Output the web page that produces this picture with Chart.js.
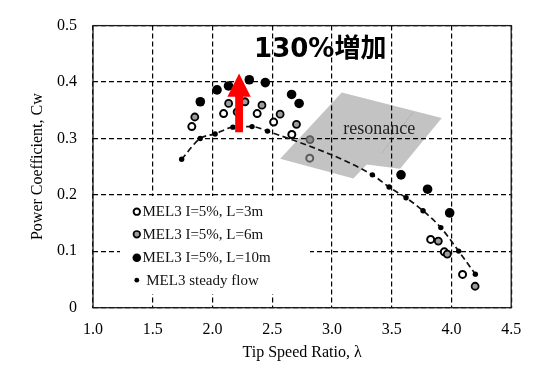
<!DOCTYPE html>
<html><head><meta charset="utf-8">
<script src="https://cdn.jsdelivr.net/npm/chart.js@4"></script>
<style>html,body{margin:0;padding:0;background:#fff}</style>
</head><body>
<canvas id="c" width="554" height="376"></canvas>
<script>
// ---------- data ----------
const xTickLabels = ['1.0','1.5','2.0','2.5','3.0','3.5','4.0','4.5'];
const yTickLabels = ['0','0.1','0.2','0.3','0.4','0.5'];
const xTitle = 'Tip Speed Ratio, \u03bb';
const yTitle = 'Power Coefficient, Cw';
const seriesNames = ['MEL3 I=5%, L=3m','MEL3 I=5%, L=6m','MEL3 I=5%, L=10m','MEL3 steady flow'];

const l3X = [1.827, 2.093, 2.207, 2.374, 2.512, 2.664, 2.814, 3.826, 3.940, 4.093];
const l3Y = [0.321, 0.344, 0.347, 0.344, 0.329, 0.307, 0.265, 0.121, 0.099, 0.059];
const l6X = [1.852, 2.135, 2.272, 2.414, 2.566, 2.703, 2.816, 3.890, 3.965, 4.198];
const l6Y = [0.338, 0.362, 0.365, 0.359, 0.343, 0.325, 0.298, 0.118, 0.095, 0.038];
const l10X = [1.898, 2.038, 2.134, 2.308, 2.442, 2.662, 2.725, 3.578, 3.800, 3.985];
const l10Y = [0.365, 0.386, 0.393, 0.404, 0.399, 0.378, 0.362, 0.2355, 0.210, 0.168];
const steadyX = [1.742, 1.897, 2.022, 2.171, 2.331, 2.460, 3.338, 3.478, 3.620, 3.762, 3.911, 4.060, 4.200];
const steadyY = [0.263, 0.300, 0.308, 0.320, 0.321, 0.313, 0.2355, 0.2138, 0.1948, 0.1718, 0.1420, 0.1003, 0.0595];

// annotations (data coordinates)
const resonanceX = [2.566, 3.082, 3.919, 3.570, 3.291, 3.179];
const resonanceY = [0.2638, 0.3816, 0.3363, 0.2464, 0.2539, 0.2290];
const resonanceSeamX = [3.681, 3.417];
const resonanceSeamY = [0.3468, 0.2743];
const resonanceLabel = 'resonance';
const resonanceLabelXY = [3.396, 0.307];
const gainLabel = '130%\u5897\u52a0';
const gainLabelXY = [2.348, 0.457];
const arrowX = 2.2226;
const arrowFromY = 0.3108;
const arrowToY = 0.4151;

// ---------- helpers ----------
const SERIF = '"Liberation Serif", "Times New Roman", serif';
function pts(xs, ys){ return xs.map((x,i)=>({x:x, y:ys[i]})); }
function inResonance(px, py){
  let inside = false;
  for (let i=0, j=resonanceX.length-1; i<resonanceX.length; j=i++){
    const xi=resonanceX[i], yi=resonanceY[i], xj=resonanceX[j], yj=resonanceY[j];
    if (((yi>py)!==(yj>py)) && (px < (xj-xi)*(py-yi)/(yj-yi)+xi)) inside=!inside;
  }
  return inside;
}
function isIn(ctx){ const r = ctx.raw; return !!(r && inResonance(r.x, r.y)); }

const GRAY_FILL = '#9c9c9c';
const REGION_FILL = '#c3c3c3';

const deco = {
  id:'deco',
  beforeDraw(chart){
    const {ctx, scales:{x,y}} = chart;
    ctx.save();
    ctx.beginPath();
    resonanceX.forEach((v,i)=>{
      const px = x.getPixelForValue(v), py = y.getPixelForValue(resonanceY[i]);
      if (i) ctx.lineTo(px,py); else ctx.moveTo(px,py);
    });
    ctx.closePath();
    ctx.fillStyle = REGION_FILL;
    ctx.fill();
    ctx.beginPath();
    ctx.moveTo(x.getPixelForValue(resonanceSeamX[0]), y.getPixelForValue(resonanceSeamY[0]));
    ctx.lineTo(x.getPixelForValue(resonanceSeamX[1]), y.getPixelForValue(resonanceSeamY[1]));
    ctx.strokeStyle = '#b2b2b2';
    ctx.lineWidth = 1;
    ctx.stroke();
    ctx.restore();
  },
  beforeDatasetsDraw(chart){
    const {ctx, scales:{x,y}} = chart;
    ctx.save();
    // resonance text
    ctx.font = '18px ' + SERIF;
    ctx.fillStyle = '#222';
    ctx.textAlign = 'center';
    ctx.textBaseline = 'alphabetic';
    ctx.fillText(resonanceLabel, x.getPixelForValue(resonanceLabelXY[0]), y.getPixelForValue(resonanceLabelXY[1]));
    // legend box
    const lx = 120, ly = 196, lw = 190, lh = 98;
    ctx.fillStyle = '#fff';
    ctx.fillRect(lx, ly, lw, lh);
    const rows = [211.7, 234.3, 257.7, 280.2];
    const mx = 136.8;
    ctx.font = '15px ' + SERIF;
    ctx.textAlign = 'left';
    ctx.textBaseline = 'middle';
    rows.forEach((ry, i)=>{
      ctx.beginPath();
      if (i === 0){ ctx.arc(mx, ry, 3.2, 0, Math.PI*2); ctx.fillStyle='#fff'; ctx.fill(); ctx.lineWidth=1.9; ctx.strokeStyle='#000'; ctx.stroke(); }
      else if (i === 1){ ctx.arc(mx, ry, 3.3, 0, Math.PI*2); ctx.fillStyle=GRAY_FILL; ctx.fill(); ctx.lineWidth=1.7; ctx.strokeStyle='#000'; ctx.stroke(); }
      else if (i === 2){ ctx.arc(mx, ry, 4.3, 0, Math.PI*2); ctx.fillStyle='#000'; ctx.fill(); }
      else { ctx.arc(mx, ry, 2.4, 0, Math.PI*2); ctx.fillStyle='#000'; ctx.fill(); }
      ctx.fillStyle = '#111';
      ctx.fillText((i===3?' ':'') + seriesNames[i], 142.5, ry + 0.5);
    });
    ctx.restore();
  },
  afterDatasetsDraw(chart){
    const {ctx, scales:{x,y}} = chart;
    ctx.save();
    // red arrow
    const ax = x.getPixelForValue(arrowX);
    const yb = y.getPixelForValue(arrowFromY);
    const yt = y.getPixelForValue(arrowToY);
    const shaftHalf = 3.9, headHalf = 11.7, headLen = 23.3;
    ctx.fillStyle = '#ff0000';
    ctx.beginPath();
    ctx.moveTo(ax - shaftHalf, yb);
    ctx.lineTo(ax - shaftHalf, yt + headLen);
    ctx.lineTo(ax - headHalf, yt + headLen);
    ctx.lineTo(ax, yt);
    ctx.lineTo(ax + headHalf, yt + headLen);
    ctx.lineTo(ax + shaftHalf, yt + headLen);
    ctx.lineTo(ax + shaftHalf, yb);
    ctx.closePath();
    ctx.fill();
    // gain label
    ctx.font = 'bold 26px "DejaVu Sans", "Noto Sans CJK JP", sans-serif';
    ctx.fillStyle = '#000';
    ctx.textAlign = 'left';
    ctx.textBaseline = 'middle';
    ctx.fillText(gainLabel, x.getPixelForValue(gainLabelXY[0]), y.getPixelForValue(gainLabelXY[1]));
    ctx.restore();
  },
  afterDraw(chart){
    const {ctx, chartArea:a} = chart;
    ctx.save();
    ctx.strokeStyle = '#1a1a1a';
    ctx.lineWidth = 1.3;
    ctx.strokeRect(a.left, a.top, a.right - a.left, a.bottom - a.top);
    ctx.restore();
  }
};

new Chart(document.getElementById('c'), {
  type: 'scatter',
  data: {
    datasets: [
      { label: seriesNames[2], data: pts(l10X, l10Y), order: 0,
        pointRadius: 4.8, pointBackgroundColor: '#000', pointBorderWidth: 0, borderColor:'#000' },
      { label: seriesNames[1], data: pts(l6X, l6Y), order: 1,
        pointRadius: 3.5, pointBorderWidth: 1.8,
        pointBackgroundColor: c => isIn(c) ? '#8e8e8e' : GRAY_FILL,
        pointBorderColor: c => isIn(c) ? '#5a5a5a' : '#000' },
      { label: seriesNames[0], data: pts(l3X, l3Y), order: 2,
        pointRadius: 3.5, pointBorderWidth: 2,
        pointBackgroundColor: c => isIn(c) ? 'rgba(0,0,0,0)' : '#fff',
        pointBorderColor: c => isIn(c) ? '#5a5a5a' : '#000' },
      { label: seriesNames[3], data: pts(steadyX, steadyY), order: 3,
        showLine: true, borderColor: '#111', borderWidth: 1.7, borderDash: [6, 3.5],
        cubicInterpolationMode: 'monotone',
        pointRadius: 2.7, pointBackgroundColor: '#000', pointBorderWidth: 0 }
    ]
  },
  options: {
    responsive: false, animation: false, devicePixelRatio: 1,
    layout: { padding: { left: 0, right: 42.8, top: 19.5, bottom: 0 } },
    plugins: { legend: { display: false }, tooltip: { enabled: false } },
    scales: {
      x: {
        type: 'linear', min: 1, max: 4.5,
        afterFit: s => { s.height = 68.3; },
        ticks: { stepSize: 0.5, padding: 12, color: '#000', font: { family: SERIF, size: 16 },
                 callback: (v, i) => xTickLabels[i] },
        grid: { color: '#000', lineWidth: 1.2, drawTicks: false },
        border: { display: false, dash: [5, 3] },
        title: { display: true, text: xTitle, color: '#000', font: { family: SERIF, size: 16 },
                 padding: { top: 0, bottom: 13.4 } }
      },
      y: {
        type: 'linear', min: 0, max: 0.5,
        afterFit: s => { s.width = 93; },
        ticks: { stepSize: 0.1, padding: 16, color: '#000', font: { family: SERIF, size: 16 },
                 callback: (v, i) => yTickLabels[i] },
        grid: { color: '#000', lineWidth: 1.2, drawTicks: false },
        border: { display: false, dash: [5, 3] },
        title: { display: true, text: yTitle, color: '#000', font: { family: SERIF, size: 16 },
                 padding: { top: 28.4, bottom: 0 } }
      }
    }
  },
  plugins: [deco]
});
</script>
</body></html>
